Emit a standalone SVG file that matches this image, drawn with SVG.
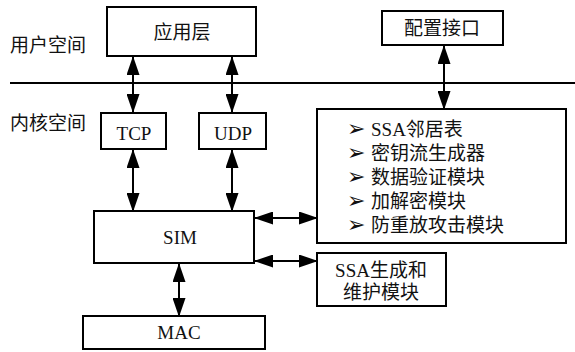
<svg xmlns="http://www.w3.org/2000/svg" width="575" height="352" viewBox="0 0 575 352">
  <style>
    .box { fill: #fff; stroke: #000; stroke-width: 2; }
    .t { font-family: "Liberation Serif", "Noto Sans CJK SC", serif; font-size: 19px; fill: #111; }
    .c { text-anchor: middle; }
    .b { font-family: "DejaVu Sans", sans-serif; font-size: 22px; }
    .link { stroke: #000; stroke-width: 2; fill: none; marker-start: url(#head); marker-end: url(#head); }
  </style>
  <defs>
    <marker id="head" markerUnits="userSpaceOnUse" markerWidth="19" markerHeight="13" refX="18" refY="6.5" orient="auto-start-reverse">
      <path d="M0,0 L19,6.5 L0,13 Z" fill="#000"/>
    </marker>
  </defs>
  <rect width="575" height="352" fill="#fff"/>

  <!-- user / kernel boundary -->
  <line x1="10" y1="83" x2="575" y2="83" stroke="#000" stroke-width="2"/>
  <text class="t" x="10" y="52">用户空间</text>
  <text class="t" x="10" y="130">内核空间</text>

  <g id="connectors">
    <line class="link" x1="133" y1="57" x2="133" y2="112"/>
    <line class="link" x1="232" y1="57" x2="232" y2="112"/>
    <line class="link" x1="444" y1="46" x2="444" y2="109"/>
    <line class="link" x1="133" y1="150" x2="133" y2="211"/>
    <line class="link" x1="232" y1="150" x2="232" y2="211"/>
    <line class="link" x1="179" y1="264" x2="179" y2="316"/>
    <line class="link" x1="255" y1="218" x2="317" y2="218"/>
    <line class="link" x1="255" y1="261" x2="317" y2="261"/>
  </g>

  <g id="app">
    <rect class="box" x="107" y="7" width="149" height="49"/>
    <text class="t c" x="182" y="39">应用层</text>
  </g>
  <g id="config">
    <rect class="box" x="382" y="11" width="121" height="34"/>
    <text class="t c" x="442" y="35">配置接口</text>
  </g>
  <g id="tcp">
    <rect class="box" x="101" y="113" width="65" height="36"/>
    <text class="t c" x="134" y="140">TCP</text>
  </g>
  <g id="udp">
    <rect class="box" x="199" y="113" width="67" height="36"/>
    <text class="t c" x="233" y="140">UDP</text>
  </g>
  <g id="sim">
    <rect class="box" x="94" y="211" width="160" height="52"/>
    <text class="t c" x="180" y="244">SIM</text>
  </g>
  <g id="mac">
    <rect class="box" x="83" y="316" width="182" height="33"/>
    <text class="t c" x="179" y="339">MAC</text>
  </g>
  <g id="security">
    <rect class="box" x="317" y="109" width="249" height="134"/>
    <text class="t" x="347" y="136"><tspan class="b">➢</tspan><tspan x="371">SSA邻居表</tspan></text>
    <text class="t" x="347" y="160"><tspan class="b">➢</tspan><tspan x="371">密钥流生成器</tspan></text>
    <text class="t" x="347" y="184"><tspan class="b">➢</tspan><tspan x="371">数据验证模块</tspan></text>
    <text class="t" x="347" y="208"><tspan class="b">➢</tspan><tspan x="371">加解密模块</tspan></text>
    <text class="t" x="347" y="232"><tspan class="b">➢</tspan><tspan x="371">防重放攻击模块</tspan></text>
  </g>
  <g id="ssa">
    <rect class="box" x="317" y="253" width="129" height="53"/>
    <text class="t c" x="381" y="277">SSA生成和</text>
    <text class="t c" x="381" y="299">维护模块</text>
  </g>
</svg>
